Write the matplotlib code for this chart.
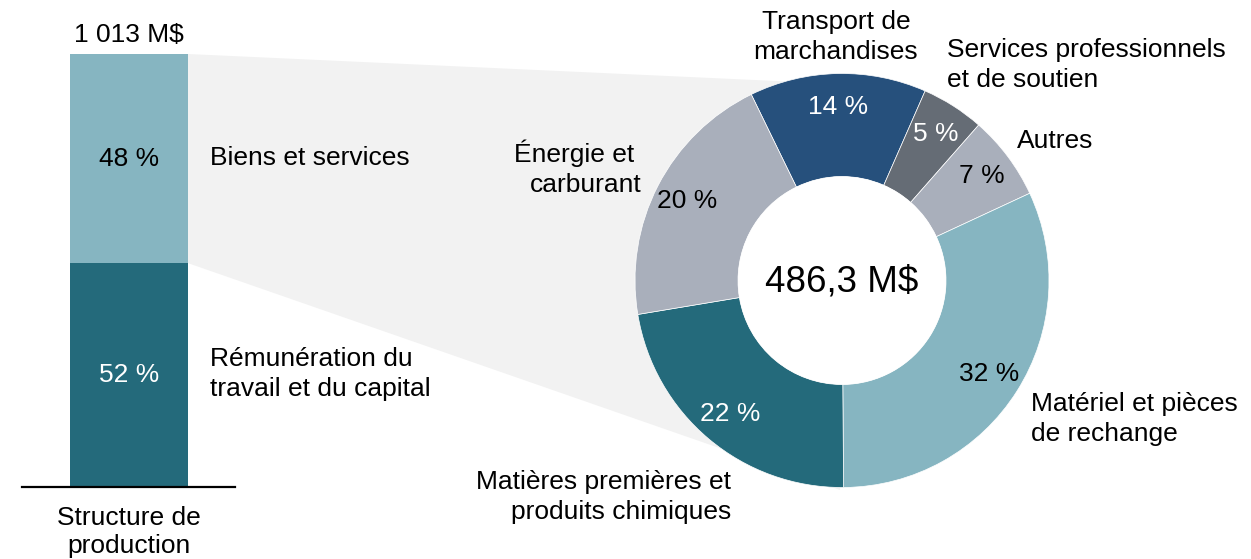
import numpy as np
import matplotlib
matplotlib.use("Agg")
import matplotlib.pyplot as plt
from matplotlib.patches import Polygon, Circle

plt.rcParams["font.family"] = ["Liberation Sans", "DejaVu Sans"]

# ---- données ----
total_label = "1 013 M$"
bar_labels = ["Rémunération du\ntravail et du capital", "Biens et services"]
bar_shares = [51.7, 48.3]
bar_pct = ["52 %", "48 %"]

donut_total = "486,3 M$"
donut_labels = [
    "Transport de\nmarchandises",
    "Services professionnels\net de soutien",
    "Autres",
    "Matériel et pièces\nde rechange",
    "Matières premières et\nproduits chimiques",
    "Énergie et\ncarburant",
]
donut_shares = [13.8, 4.9, 6.6, 31.8, 22.5, 20.4]
donut_pct = ["14 %", "5 %", "7 %", "32 %", "22 %", "20 %"]

# ---- couleurs ----
c_dark_teal = "#246A7B"
c_light_teal = "#86B5C1"
c_navy = "#26507C"
c_dgray = "#656C75"
c_lgray = "#A9AFBB"
bar_colors = [c_dark_teal, c_light_teal]
donut_colors = [c_navy, c_dgray, c_lgray, c_light_teal, c_dark_teal, c_lgray]
donut_txt = ["white", "white", "black", "black", "white", "black"]

W, H = 1251, 559
FS = 19
LS = 1.33

fig = plt.figure(figsize=(W / 100, H / 100), dpi=100)
ax = fig.add_axes([0, 0, 1, 1])


def Y(y):
    return H - y


# ---- barre empilée ----
bar_x, bar_w = 129, 118
bar_base, bar_top = 487, 54
scale = (bar_base - bar_top) / sum(bar_shares)
bottom = Y(bar_base)
mids = []
for share, col in zip(bar_shares, bar_colors):
    h = share * scale
    ax.bar(bar_x, h, width=bar_w, bottom=bottom, color=col, zorder=2)
    mids.append(bottom + h / 2)
    bottom += h
split_y = Y(bar_base) + bar_shares[0] * scale

for m, lab, pct, tc in zip(mids, bar_labels, bar_pct, ["white", "black"]):
    ax.text(bar_x, m, pct, ha="center", va="center", fontsize=FS, color=tc, zorder=4)
    ax.text(210, m + 1, lab, ha="left", va="center", fontsize=FS, linespacing=LS, zorder=4)

ax.text(bar_x, Y(35), total_label, ha="center", va="center", fontsize=FS)
ax.plot([22, 235], [Y(487), Y(487)], color="black", lw=1.6, zorder=3)
ax.text(bar_x, Y(532), "Structure de\nproduction", ha="center", va="center",
        fontsize=FS, linespacing=1.25)

# ---- anneau ----
cx, cy, r = 842, Y(280.5), 207
r_in = 104
wedges, _ = ax.pie(donut_shares, colors=donut_colors, startangle=116, counterclock=False,
                   radius=r, center=(cx, cy),
                   wedgeprops=dict(width=r - r_in, edgecolor="white", linewidth=0.5))
for w in wedges:
    w.set_zorder(2)

# zone grise de liaison
xr = bar_x + bar_w / 2
poly = Polygon([(xr, Y(bar_top)), (cx, Y(84)), (cx - 2, Y(490)), (xr, split_y)],
               closed=True, facecolor="#F2F2F2", edgecolor="none", zorder=0)
ax.add_patch(poly)
ax.add_patch(Circle((cx, cy), r_in, facecolor="white", edgecolor="none", zorder=3))

for w, pct, tc in zip(wedges, donut_pct, donut_txt):
    ang = np.deg2rad((w.theta1 + w.theta2) / 2)
    ax.text(cx + 174 * np.cos(ang), cy + 174 * np.sin(ang), pct, ha="center",
            va="center", fontsize=FS, color=tc, zorder=4)

ax.text(cx, cy - 1, donut_total, ha="center", va="center", fontsize=26.5, zorder=4)

# étiquettes des catégories
lab_pos = [
    (836, 37, "center"),
    (947, 65, "left"),
    (1017, 141, "left"),
    (1031, 419, "left"),
    (731, 497, "right"),
    (642, 168, "right"),
]
for lab, (x, y, ha) in zip(donut_labels, lab_pos):
    if lab.startswith("Énergie"):
        lab = lab.replace("et\n", "et \n")
    ax.text(x, Y(y), lab, ha=ha, va="center", fontsize=FS, linespacing=LS,
            multialignment=ha, zorder=4)

ax.set_xlim(0, W)
ax.set_ylim(0, H)
ax.set_aspect("equal")
ax.axis("off")

fig.savefig("out.png", dpi=100)
